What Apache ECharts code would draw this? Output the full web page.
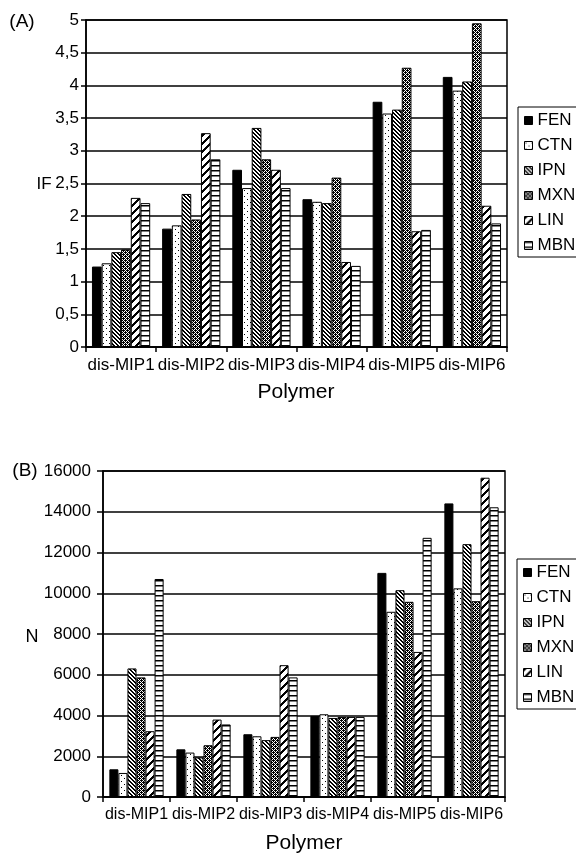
<!DOCTYPE html>
<html>
<head>
<meta charset="utf-8">
<script src="https://cdn.jsdelivr.net/npm/echarts@6/dist/echarts.min.js"></script>
<style>
html,body{margin:0;padding:0;background:#fff;}
#chart{width:576px;height:861px;}
</style>
</head>
<body>
<div id="chart"></div>
<script>
// ---- data ----
var categories = ['dis-MIP1', 'dis-MIP2', 'dis-MIP3', 'dis-MIP4', 'dis-MIP5', 'dis-MIP6'];
var seriesNames = ['FEN', 'CTN', 'IPN', 'MXN', 'LIN', 'MBN'];

// Panel (A): IF
var ifFEN = [1.23, 1.81, 2.71, 2.26, 3.75, 4.13];
var ifCTN = [1.28, 1.86, 2.43, 2.22, 3.57, 3.92];
var ifIPN = [1.45, 2.34, 3.35, 2.20, 3.63, 4.06];
var ifMXN = [1.49, 1.95, 2.87, 2.59, 4.27, 4.95];
var ifLIN = [2.28, 3.27, 2.71, 1.30, 1.77, 2.16];
var ifMBN = [2.20, 2.87, 2.43, 1.24, 1.79, 1.89];

// Panel (B): N
var nFEN = [1360, 2340, 3080, 3980, 11000, 14410];
var nCTN = [1180, 2180, 2980, 4060, 9090, 10240];
var nIPN = [6310, 1940, 2790, 3880, 10150, 12410];
var nMXN = [5870, 2540, 2950, 3930, 9580, 9610];
var nLIN = [3230, 3800, 6470, 3930, 7120, 15670];
var nMBN = [10700, 3560, 5870, 3930, 12720, 14220];

var ifTicks = ['0', '0,5', '1', '1,5', '2', '2,5', '3', '3,5', '4', '4,5', '5'];
var nTicks = ['0', '2000', '4000', '6000', '8000', '10000', '12000', '14000', '16000'];

// ---- patterns ----
function makePattern(w, h, draw) {
  var c = document.createElement('canvas');
  c.width = w; c.height = h;
  var ctx = c.getContext('2d');
  ctx.fillStyle = '#fff';
  ctx.fillRect(0, 0, w, h);
  ctx.fillStyle = '#000';
  draw(ctx, w, h);
  return { image: c, repeat: 'repeat' };
}
var patterns = {
  FEN: '#000',
  CTN: makePattern(6, 6, function (ctx) {
    ctx.fillRect(1, 1, 1, 1);
    ctx.fillRect(4, 4, 1, 1);
  }),
  IPN: makePattern(4, 4, function (ctx) {
    for (var i = 0; i < 4; i++) { ctx.fillRect(i, i, 1, 1); ctx.fillRect((i + 1) % 4, i, 1, 1); }
  }),
  MXN: makePattern(4, 4, function (ctx, w, h) {
    for (var y = 0; y < h; y++) {
      for (var x = 0; x < w; x++) {
        if ((x + y) % 2 === 0) ctx.fillRect(x, y, 1, 1);
      }
    }
    ctx.fillRect(1, 0, 1, 1);
    ctx.fillRect(3, 2, 1, 1);
  }),
  LIN: makePattern(8, 8, function (ctx, w, h) {
    for (var y = 0; y < h; y++) {
      for (var x = 0; x < w; x++) {
        if ((x + y) % 8 < 3) ctx.fillRect(x, y, 1, 1);
      }
    }
  }),
  MBN: makePattern(4, 5, function (ctx, w) {
    ctx.fillRect(0, 0, w, 1.5);
  })
};

var FONT = "'Liberation Sans', Arial, sans-serif";
var ifData = { FEN: ifFEN, CTN: ifCTN, IPN: ifIPN, MXN: ifMXN, LIN: ifLIN, MBN: ifMBN };
var nData = { FEN: nFEN, CTN: nCTN, IPN: nIPN, MXN: nMXN, LIN: nLIN, MBN: nMBN };

var series = [];
seriesNames.forEach(function (name) {
  series.push({
    name: name, type: 'bar', xAxisIndex: 0, yAxisIndex: 0,
    data: ifData[name], barGap: '0%', barCategoryGap: '17%',
    itemStyle: { color: patterns[name], borderColor: '#000', borderWidth: 1 },
    emphasis: { disabled: true }, animation: false
  });
});
seriesNames.forEach(function (name) {
  series.push({
    name: name, type: 'bar', xAxisIndex: 1, yAxisIndex: 1,
    data: nData[name], barGap: '0%', barCategoryGap: '19%',
    itemStyle: { color: patterns[name], borderColor: '#000', borderWidth: 1 },
    emphasis: { disabled: true }, animation: false
  });
});

function xAxis(gridIndex, fs) {
  return {
    type: 'category', gridIndex: gridIndex, data: categories,
    axisLine: { lineStyle: { color: '#000', width: 1.5 } },
    axisTick: { show: true, length: 5, lineStyle: { color: '#000', width: 1.5 } },
    axisLabel: { interval: 0, color: '#000', fontSize: fs, fontFamily: FONT, margin: 10 },
    splitLine: { show: false }
  };
}

var legendBase = {
  orient: 'vertical',
  itemWidth: 8, itemHeight: 8, itemGap: 8,
  borderColor: '#000', borderWidth: 1,
  padding: [5, 10, 3, 6],
  backgroundColor: '#fff',
  textStyle: { color: '#000', fontSize: 17, fontFamily: FONT, lineHeight: 17 },
  itemStyle: { borderColor: '#000', borderWidth: 1 },
  icon: 'rect',
  selectedMode: false,
  data: seriesNames
};

var option = {
  backgroundColor: '#fff',
  animation: false,
  grid: [
    { left: 86, top: 20, width: 421, height: 327, show: true, borderColor: '#000', borderWidth: 1.5, backgroundColor: '#fff' },
    { left: 103, top: 471, width: 402, height: 326, show: true, borderColor: '#000', borderWidth: 1.5, backgroundColor: '#fff' }
  ],
  xAxis: [xAxis(0, 17), xAxis(1, 16)],
  yAxis: [
    {
      type: 'value', gridIndex: 0, min: 0, max: 5, interval: 0.5,
      axisLine: { show: true, lineStyle: { color: '#000', width: 1.5 } },
      axisTick: { show: true, length: 5, lineStyle: { color: '#000', width: 1.5 } },
      axisLabel: {
        color: '#000', fontSize: 17, fontFamily: FONT, margin: 7,
        formatter: function (v) { return ifTicks[Math.round(v / 0.5)]; }
      },
      splitLine: { show: true, lineStyle: { color: '#000', width: 1.5 } }
    },
    {
      type: 'value', gridIndex: 1, min: 0, max: 16000, interval: 2000,
      axisLine: { show: true, lineStyle: { color: '#000', width: 1.5 } },
      axisTick: { show: true, length: 6, lineStyle: { color: '#000', width: 1.5 } },
      axisLabel: {
        color: '#000', fontSize: 17, fontFamily: FONT, margin: 12,
        formatter: function (v) { return nTicks[Math.round(v / 2000)]; }
      },
      splitLine: { show: true, lineStyle: { color: '#000', width: 1.5 } }
    }
  ],
  legend: [
    Object.assign({}, legendBase, { left: 518, top: 107 }),
    Object.assign({}, legendBase, { left: 517, top: 559 })
  ],
  graphic: [
    { type: 'text', x: 22, y: 22, style: { text: '(A)', font: '19px ' + FONT, fill: '#000', textAlign: 'center', textVerticalAlign: 'middle' } },
    { type: 'text', x: 44, y: 184, style: { text: 'IF', font: '17px ' + FONT, fill: '#000', textAlign: 'center', textVerticalAlign: 'middle' } },
    { type: 'text', x: 296, y: 392, style: { text: 'Polymer', font: '21px ' + FONT, fill: '#000', textAlign: 'center', textVerticalAlign: 'middle' } },
    { type: 'text', x: 25, y: 471, style: { text: '(B)', font: '19px ' + FONT, fill: '#000', textAlign: 'center', textVerticalAlign: 'middle' } },
    { type: 'text', x: 32, y: 637, style: { text: 'N', font: '18px ' + FONT, fill: '#000', textAlign: 'center', textVerticalAlign: 'middle' } },
    { type: 'text', x: 304, y: 843, style: { text: 'Polymer', font: '21px ' + FONT, fill: '#000', textAlign: 'center', textVerticalAlign: 'middle' } }
  ],
  series: series
};

var chart = echarts.init(document.getElementById('chart'), null, { renderer: 'canvas' });
chart.setOption(option);
</script>
</body>
</html>
